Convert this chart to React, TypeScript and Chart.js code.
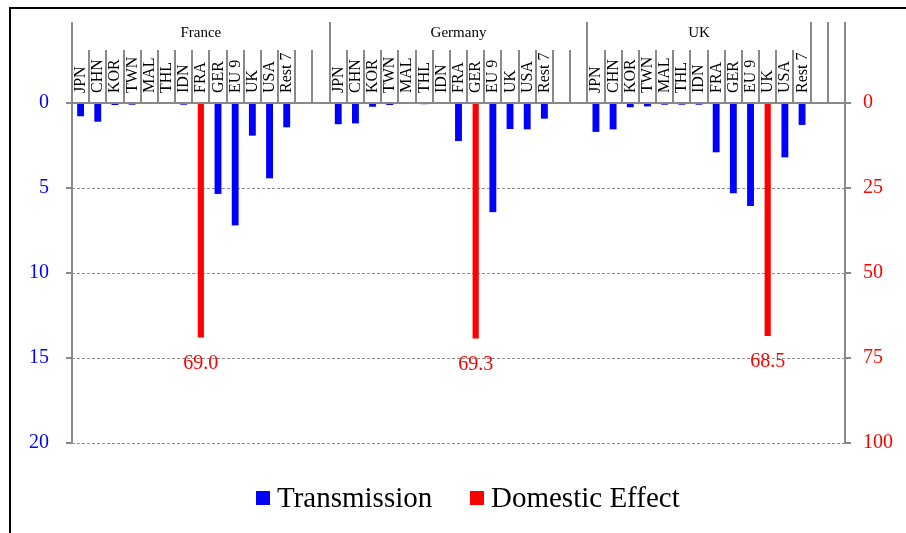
import React, { useEffect, useRef } from "react";
import { Chart, registerables } from "chart.js";

Chart.register(...registerables);

// ---------- data ----------
const groups = ["France", "Germany", "UK"];
const partners = ["JPN", "CHN", "KOR", "TWN", "MAL", "THL", "IDN", "FRA", "GER", "EU 9", "UK", "USA", "Rest 7"];
const transmissionFrance = [0.78, 1.1, 0.12, 0.1, 0.03, 0.04, 0.1, null, 5.35, 7.2, 1.92, 4.43, 1.43];
const transmissionGermany = [1.25, 1.2, 0.22, 0.12, 0.04, 0.07, 0.04, 2.24, null, 6.42, 1.53, 1.55, 0.92];
const transmissionUK = [1.7, 1.55, 0.25, 0.2, 0.1, 0.1, 0.1, 2.9, 5.31, 6.06, null, 3.2, 1.29];
const domesticEffect = [69.0, 69.3, 68.5];
const domesticPartner = ["FRA", "GER", "UK"];
const groupSlotCounts = [15, 15, 13];
const trailingBlankGroups = 2;
const leftTicks = [0, 5, 10, 15, 20];
const rightTicks = [0, 25, 50, 75, 100];
const legendLabels = ["Transmission", "Domestic Effect"];

const BLUE = "#0000ff";
const RED = "#ff0000";
const GRAY = "#898989";
const SERIF = '"Liberation Serif", "Times New Roman", serif';

// ---------- build slots ----------
type Slot = { label: string; trans: number | null; dom: number | null };
const transmissionByGroup = [transmissionFrance, transmissionGermany, transmissionUK];
const slots: Slot[] = [];
const groupSpans: { name: string; start: number; end: number }[] = [];
groups.forEach((g, gi) => {
  const start = slots.length;
  for (let s = 0; s < groupSlotCounts[gi]; s++) {
    const p = s < partners.length ? partners[s] : "";
    const t = s < partners.length ? transmissionByGroup[gi][s] : null;
    const d = p === domesticPartner[gi] ? domesticEffect[gi] : null;
    slots.push({ label: p, trans: t, dom: d });
  }
  groupSpans.push({ name: g, start, end: slots.length });
});
for (let i = 0; i < trailingBlankGroups; i++) {
  const start = slots.length;
  slots.push({ label: "", trans: null, dom: null });
  groupSpans.push({ name: "", start, end: slots.length });
}

const labels = slots.map((s) => s.label);
const transData = slots.map((s) => s.trans);
const domData = slots.map((s) => s.dom);

// ---------- drawing plugin ----------
const decorPlugin = {
  id: "decor",
  beforeDatasetsDraw(chart: any) {
    const { ctx, chartArea: ca, scales } = chart;
    const y = scales.y;
    ctx.save();
    ctx.strokeStyle = "#8f8f8f";
    ctx.lineWidth = 1;
    ctx.setLineDash([3, 2]);
    leftTicks.forEach((v) => {
      if (v === 0) return;
      const py = Math.round(y.getPixelForValue(v)) + 0.5;
      ctx.beginPath();
      ctx.moveTo(ca.left, py);
      ctx.lineTo(ca.right, py);
      ctx.stroke();
    });
    ctx.restore();
  },
  afterDatasetsDraw(chart: any) {
    const { ctx, chartArea: ca, scales } = chart;
    const x = scales.x;
    const y = scales.y;
    const half = (x.getPixelForValue(1) - x.getPixelForValue(0)) / 2;
    const headerTop = 22;
    const shortTop = 50;
    const zeroY = Math.round(y.getPixelForValue(0));
    ctx.save();
    ctx.strokeStyle = GRAY;
    ctx.lineWidth = 2;
    ctx.setLineDash([]);

    // separators
    const groupBounds = new Set<number>();
    groupSpans.forEach((g) => {
      groupBounds.add(g.start);
      groupBounds.add(g.end);
    });
    for (let i = 0; i <= slots.length; i++) {
      const px = Math.round(i < slots.length ? x.getPixelForValue(i) - half : x.getPixelForValue(slots.length - 1) + half);
      const top = groupBounds.has(i) ? headerTop : shortTop;
      ctx.beginPath();
      ctx.moveTo(px, top);
      ctx.lineTo(px, zeroY);
      ctx.stroke();
    }

    // axis lines
    const lx = Math.round(ca.left);
    const rx = Math.round(ca.right);
    ctx.beginPath();
    ctx.moveTo(lx, zeroY);
    ctx.lineTo(lx, Math.round(ca.bottom));
    ctx.moveTo(rx, zeroY);
    ctx.lineTo(rx, Math.round(ca.bottom));
    ctx.stroke();
    // tick marks
    const y2 = scales.y2;
    leftTicks.forEach((v) => {
      const py = Math.round(y.getPixelForValue(v));
      ctx.beginPath();
      ctx.moveTo(lx - 6, py);
      ctx.lineTo(lx, py);
      ctx.stroke();
    });
    rightTicks.forEach((v) => {
      const py = Math.round(y2.getPixelForValue(v));
      ctx.beginPath();
      ctx.moveTo(rx, py);
      ctx.lineTo(rx + 6, py);
      ctx.stroke();
    });
    // zero line (category axis)
    ctx.beginPath();
    ctx.moveTo(lx - 6, zeroY);
    ctx.lineTo(rx + 6, zeroY);
    ctx.stroke();

    // category labels
    ctx.fillStyle = "#000";
    ctx.font = `16px ${SERIF}`;
    ctx.textAlign = "left";
    ctx.textBaseline = "alphabetic";
    slots.forEach((s, i) => {
      if (!s.label) return;
      const cx = x.getPixelForValue(i);
      ctx.save();
      ctx.translate(cx + 4.5, zeroY - 10);
      ctx.rotate(-Math.PI / 2);
      ctx.fillText(s.label, 0, 0);
      ctx.restore();
    });

    // group labels
    ctx.font = `15px ${SERIF}`;
    ctx.textAlign = "center";
    groupSpans.forEach((g) => {
      if (!g.name) return;
      const cx = (x.getPixelForValue(g.start) + x.getPixelForValue(g.end - 1)) / 2;
      ctx.fillText(g.name, cx, 37);
    });

    // domestic value labels
    const meta = chart.getDatasetMeta(1);
    ctx.fillStyle = RED;
    ctx.font = `20px ${SERIF}`;
    ctx.textAlign = "center";
    meta.data.forEach((el: any, i: number) => {
      const v = domData[i];
      if (v == null) return;
      ctx.fillText(v.toFixed(1), el.x, el.y + 31);
    });

    // legend
    const legendColors = [BLUE, RED];
    const legendX = [256, 470];
    ctx.font = `29px ${SERIF}`;
    ctx.textAlign = "left";
    legendLabels.forEach((t, i) => {
      ctx.fillStyle = legendColors[i];
      ctx.fillRect(legendX[i], 491, 14, 14);
      ctx.fillStyle = "#000";
      ctx.fillText(t, legendX[i] + 21, 507);
    });

    // outer frame
    ctx.strokeStyle = "#000";
    ctx.lineWidth = 2;
    ctx.beginPath();
    ctx.moveTo(10, 540);
    ctx.lineTo(10, 8);
    ctx.lineTo(920, 8);
    ctx.stroke();
    ctx.restore();
  },
};

export default function App() {
  const ref = useRef<HTMLCanvasElement | null>(null);
  useEffect(() => {
    if (!ref.current) return;
    const chart = new Chart(ref.current, {
      type: "bar",
      data: {
        labels,
        datasets: [
          {
            label: legendLabels[0],
            data: transData,
            yAxisID: "y",
            backgroundColor: BLUE,
            grouped: false,
            barPercentage: 0.4,
            categoryPercentage: 1,
          },
          {
            label: legendLabels[1],
            data: domData,
            yAxisID: "y2",
            backgroundColor: RED,
            grouped: false,
            barPercentage: 0.36,
            categoryPercentage: 1,
          },
        ],
      } as any,
      options: {
        animation: false,
        responsive: false,
        layout: { padding: { left: 0, right: 0, top: 0, bottom: 90 } },
        plugins: { legend: { display: false }, tooltip: { enabled: false } },
        scales: {
          x: {
            type: "category",
            position: "top",
            grid: { display: false },
            border: { display: false },
            ticks: { display: false },
            afterFit: (s: any) => {
              s.height = 103;
            },
          },
          y: {
            position: "left",
            reverse: true,
            min: 0,
            max: 20,
            grid: { display: false, drawTicks: false },
            border: { display: false },
            ticks: {
              stepSize: 5,
              color: BLUE,
              padding: 23,
              font: { family: SERIF, size: 20 },
            },
            afterFit: (s: any) => {
              s.width = 72;
            },
          },
          y2: {
            position: "right",
            reverse: true,
            min: 0,
            max: 100,
            grid: { display: false, drawTicks: false },
            border: { display: false },
            ticks: {
              stepSize: 25,
              color: RED,
              padding: 18,
              font: { family: SERIF, size: 20 },
            },
            afterFit: (s: any) => {
              s.width = 61;
            },
          },
        },
      } as any,
      plugins: [decorPlugin],
    });
    return () => chart.destroy();
  }, []);
  return (
    <div style={{ position: "fixed", left: 0, top: 0, width: 906, height: 533, background: "#fff" }}>
      <canvas ref={ref} width={906} height={533} style={{ display: "block" }} />
    </div>
  );
}
